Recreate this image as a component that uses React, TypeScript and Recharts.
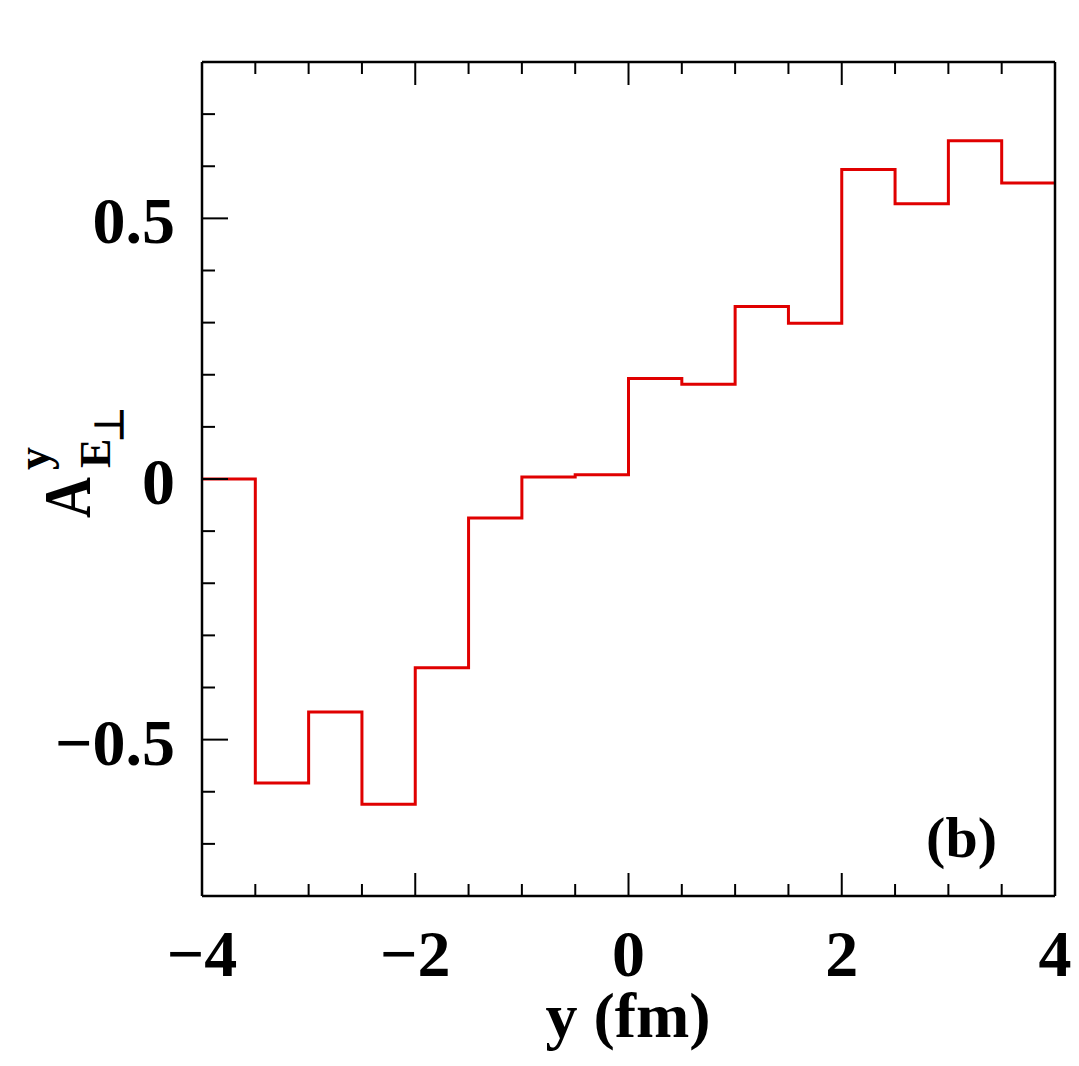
import React from "react";
import { LineChart, Line, XAxis, YAxis } from "recharts";

// left edges of the 0.5 fm bins, and the asymmetry in each bin
const binStarts = [-4, -3.5, -3, -2.5, -2, -1.5, -1, -0.5, 0, 0.5, 1, 1.5, 2, 2.5, 3, 3.5];
const binValues = [
  0.0, -0.583, -0.447, -0.624, -0.362, -0.075, 0.004, 0.008,
  0.193, 0.182, 0.331, 0.299, 0.594, 0.528, 0.649, 0.568,
];
const xEnd = 4;

const xTicks = [-4, -3.5, -3, -2.5, -2, -1.5, -1, -0.5, 0, 0.5, 1, 1.5, 2, 2.5, 3, 3.5, 4];
const xMajor = [-4, -2, 0, 2, 4];
const yTicks = [
  -0.8, -0.7, -0.6, -0.5, -0.4, -0.3, -0.2, -0.1, 0,
  0.1, 0.2, 0.3, 0.4, 0.5, 0.6, 0.7, 0.8,
];
const yMajor = [-0.5, 0, 0.5];

const data = [
  ...binStarts.map((x, i) => ({ x, v: binValues[i] })),
  { x: xEnd, v: binValues[binValues.length - 1] },
];

const W = 1071;
const H = 1058;
const FONT = "'Liberation Serif', 'Times New Roman', serif";
const INK = "#000";

const fmt = (v: number) => (v < 0 ? "\u2212" + Math.abs(v) : String(v));
const isMajor = (list: number[], v: number) => list.some((m) => Math.abs(m - v) < 1e-6);

const BottomTick = (props: any) => {
  const { x, y, payload } = props;
  const major = isMajor(xMajor, payload.value);
  return (
    <g>
      <line x1={x} x2={x} y1={y} y2={y - (major ? 23 : 12)} stroke={INK} strokeWidth={2} />
      {major && (
        <text x={x} y={y + 80} textAnchor="middle" fontFamily={FONT} fontWeight="bold" fontSize={66} fill={INK}>
          {fmt(payload.value)}
        </text>
      )}
    </g>
  );
};

const TopTick = (props: any) => {
  const { x, y, payload } = props;
  const major = isMajor(xMajor, payload.value);
  return <line x1={x} x2={x} y1={y} y2={y + (major ? 23 : 12)} stroke={INK} strokeWidth={2} />;
};

const LeftTick = (props: any) => {
  const { x, y, payload } = props;
  const major = isMajor(yMajor, payload.value);
  return (
    <g>
      <line x1={x} x2={x + (major ? 26 : 13)} y1={y} y2={y} stroke={INK} strokeWidth={2} />
      {major && (
        <text x={x - 27} y={y + 25} textAnchor="end" fontFamily={FONT} fontWeight="bold" fontSize={66} fill={INK}>
          {fmt(payload.value)}
        </text>
      )}
    </g>
  );
};

const RightTick = (props: any) => {
  const { x, y, payload } = props;
  const major = isMajor(yMajor, payload.value);
  return <line x1={x} x2={x - (major ? 26 : 13)} y1={y} y2={y} stroke={INK} strokeWidth={2} />;
};

const axisLine = { stroke: INK, strokeWidth: 2.5 };

export default function App() {
  return (
    <div style={{ position: "relative", width: W, height: H }}>
      <LineChart width={W} height={H} data={data} margin={{ top: 0, right: 0, bottom: 0, left: 0 }}>
        <XAxis
          xAxisId="bottom"
          dataKey="x"
          type="number"
          domain={[-4, 4]}
          ticks={xTicks}
          interval={0}
          height={170}
          tickSize={0}
          tickMargin={0}
          tickLine={false}
          axisLine={axisLine}
          tick={<BottomTick />}
        />
        <XAxis
          xAxisId="top"
          orientation="top"
          dataKey="x"
          type="number"
          domain={[-4, 4]}
          ticks={xTicks}
          interval={0}
          height={54}
          tickSize={0}
          tickMargin={0}
          tickLine={false}
          axisLine={axisLine}
          tick={<TopTick />}
        />
        <YAxis
          yAxisId="left"
          type="number"
          domain={[-0.8, 0.8]}
          ticks={yTicks}
          interval={0}
          width={194}
          tickSize={0}
          tickMargin={0}
          tickLine={false}
          axisLine={axisLine}
          tick={<LeftTick />}
        />
        <YAxis
          yAxisId="right"
          orientation="right"
          type="number"
          domain={[-0.8, 0.8]}
          ticks={yTicks}
          interval={0}
          width={24}
          tickSize={0}
          tickMargin={0}
          tickLine={false}
          axisLine={axisLine}
          tick={<RightTick />}
        />
        <Line
          xAxisId="bottom"
          yAxisId="left"
          dataKey="v"
          type="stepAfter"
          stroke="#e00000"
          strokeWidth={3}
          dot={false}
          activeDot={false}
          isAnimationActive={false}
        />
      </LineChart>
      <svg
        width={W}
        height={H}
        style={{ position: "absolute", left: 0, top: 0, pointerEvents: "none" }}
      >
        <text x={620} y={1029} textAnchor="middle" fontFamily={FONT} fontWeight="bold" fontSize={64} fill={INK}>
          y (fm)
        </text>
        <text x={989} y={849} textAnchor="end" fontFamily={FONT} fontWeight="bold" fontSize={58} fill={INK}>
          (b)
        </text>
        <g transform="translate(82,510) rotate(-90)" fontFamily={FONT} fontWeight="bold" fill={INK}>
          <text x={0} y={0} fontSize={68} textLength={41} lengthAdjust="spacingAndGlyphs">A</text>
          <text x={48} y={-41} fontSize={46}>y</text>
          <text x={50} y={20} fontSize={44}>E</text>
          <text x={76} y={33} fontSize={40}>{"\u22a5"}</text>
        </g>
      </svg>
    </div>
  );
}
